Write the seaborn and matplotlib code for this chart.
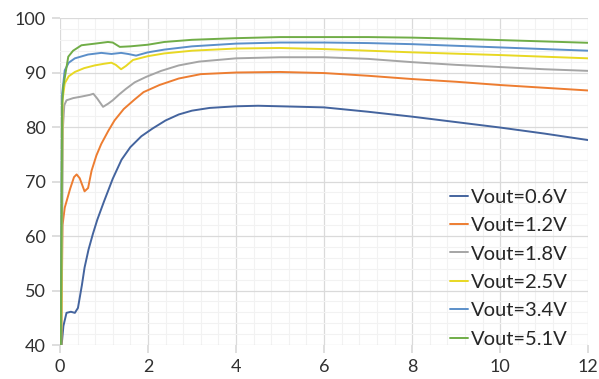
import matplotlib
matplotlib.use("Agg")
import matplotlib.pyplot as plt
import seaborn as sns
import pandas as pd
from matplotlib.ticker import MultipleLocator

labels = ["Vout=0.6V", "Vout=1.2V", "Vout=1.8V", "Vout=2.5V", "Vout=3.4V", "Vout=5.1V"]
colors = ["#44649E", "#ED7D31", "#A5A5A5", "#E8D823", "#5B8FC9", "#70AD47"]

x_06 = [0.04, 0.08, 0.15, 0.25, 0.34, 0.41, 0.5, 0.56, 0.65, 0.75, 0.85, 1.0, 1.2, 1.4, 1.6, 1.85,
        2.1, 2.4, 2.7, 3.0, 3.4, 4.0, 4.5, 5.0, 6.0, 7.0, 8.0, 9.0, 10.0, 11.0, 12.0]
y_06 = [40, 43.5, 45.9, 46.1, 45.9, 46.8, 51, 54.2, 57.5, 60.4, 63, 66.3, 70.5, 74.0, 76.3, 78.3,
        79.7, 81.2, 82.3, 83.0, 83.5, 83.8, 83.9, 83.8, 83.6, 82.8, 81.9, 80.9, 79.9, 78.8, 77.6]

x_12 = [0.03, 0.06, 0.11, 0.23, 0.32, 0.38, 0.45, 0.56, 0.64, 0.72, 0.83, 0.94, 1.1, 1.24, 1.45,
        1.69, 1.9, 2.26, 2.7, 3.2, 4.0, 5.0, 6.0, 7.0, 8.0, 9.0, 10.0, 11.0, 12.0]
y_12 = [40, 62, 65.2, 68.6, 70.8, 71.3, 70.6, 68.2, 68.8, 72.0, 74.8, 76.9, 79.3, 81.2, 83.3,
        85.0, 86.4, 87.7, 88.9, 89.7, 90.0, 90.1, 89.9, 89.4, 88.8, 88.3, 87.7, 87.2, 86.7]

x_18 = [0.03, 0.07, 0.1, 0.15, 0.3, 0.5, 0.68, 0.76, 0.85, 0.98, 1.1, 1.2, 1.35, 1.5, 1.7, 1.96,
        2.3, 2.7, 3.16, 4.0, 5.0, 6.0, 7.0, 8.0, 9.0, 10.0, 11.0, 12.0]
y_18 = [40, 80, 84, 84.9, 85.3, 85.6, 85.9, 86.1, 85.2, 83.7, 84.3, 84.9, 86.0, 87.0, 88.2, 89.2,
        90.3, 91.3, 92.0, 92.6, 92.8, 92.8, 92.5, 91.9, 91.4, 91.0, 90.6, 90.3]

x_25 = [0.03, 0.06, 0.11, 0.2, 0.34, 0.55, 0.79, 1.0, 1.17, 1.27, 1.39, 1.5, 1.66, 2.0, 2.37, 3.0,
        4.0, 5.0, 6.0, 7.0, 8.0, 9.0, 10.0, 11.0, 12.0]
y_25 = [40, 85, 88.0, 89.3, 90.1, 90.8, 91.3, 91.6, 91.8, 91.4, 90.6, 91.2, 92.3, 93.0, 93.5, 94.0,
        94.4, 94.5, 94.3, 94.0, 93.7, 93.45, 93.2, 92.9, 92.6]

x_34 = [0.02, 0.05, 0.11, 0.2, 0.34, 0.64, 0.94, 1.17, 1.39, 1.55, 1.73, 2.0, 2.37, 3.0, 4.0, 5.0,
        6.0, 7.0, 8.0, 9.0, 10.0, 11.0, 12.0]
y_34 = [40, 86, 90.4, 91.8, 92.6, 93.3, 93.6, 93.4, 93.6, 93.4, 93.1, 93.7, 94.2, 94.8, 95.3, 95.5,
        95.5, 95.4, 95.2, 94.9, 94.6, 94.3, 94.0]

x_51 = [0.02, 0.05, 0.075, 0.19, 0.3, 0.49, 0.8, 1.09, 1.2, 1.36, 1.6, 2.0, 2.37, 3.0, 4.0, 5.0,
        6.0, 7.0, 8.0, 9.0, 10.0, 11.0, 12.0]
y_51 = [40, 84, 87.3, 92.9, 94.0, 95.0, 95.3, 95.6, 95.5, 94.7, 94.8, 95.1, 95.6, 96.0, 96.3, 96.5,
        96.5, 96.5, 96.4, 96.2, 95.95, 95.7, 95.45]

xs = [x_06, x_12, x_18, x_25, x_34, x_51]
ys = [y_06, y_12, y_18, y_25, y_34, y_51]

frames = []
for lab, xx, yy in zip(labels, xs, ys):
    frames.append(pd.DataFrame({"x": xx, "y": yy, "series": lab}))
df = pd.concat(frames, ignore_index=True)

sns.set_theme(style="white")
plt.rcParams["font.family"] = ["Lato", "DejaVu Sans"]

fig = plt.figure(figsize=(5.99, 3.79), dpi=100)
ax = fig.add_axes([0.100, 0.0897, 0.882, 0.8628])

sns.lineplot(data=df, x="x", y="y", hue="series", hue_order=labels,
             palette=colors, linewidth=1.4, sort=False, estimator=None, ax=ax)

ax.set_xlim(0, 12)
ax.set_ylim(40, 100)
ax.xaxis.set_major_locator(MultipleLocator(2))
ax.xaxis.set_minor_locator(MultipleLocator(0.4))
ax.yaxis.set_major_locator(MultipleLocator(10))
ax.yaxis.set_minor_locator(MultipleLocator(2))
ax.grid(which="major", color="#DADADA", linewidth=0.9)
ax.grid(which="minor", color="#F2F2F2", linewidth=0.8)
ax.set_axisbelow(True)
for s in ax.spines.values():
    s.set_visible(False)
ax.tick_params(which="major", length=6, color="#D9D9D9", labelsize=13,
               labelcolor="#303030", bottom=True, left=True, pad=4)
ax.tick_params(which="minor", length=0)
ax.set_xlabel("")
ax.set_ylabel("")

ax.legend(loc="lower right", bbox_to_anchor=(0.985, -0.045), frameon=False,
          fontsize=14.5, handlelength=0.9, handletextpad=0.15, labelspacing=0.56,
          borderaxespad=0.2)

fig.savefig("out.png", dpi=100)
